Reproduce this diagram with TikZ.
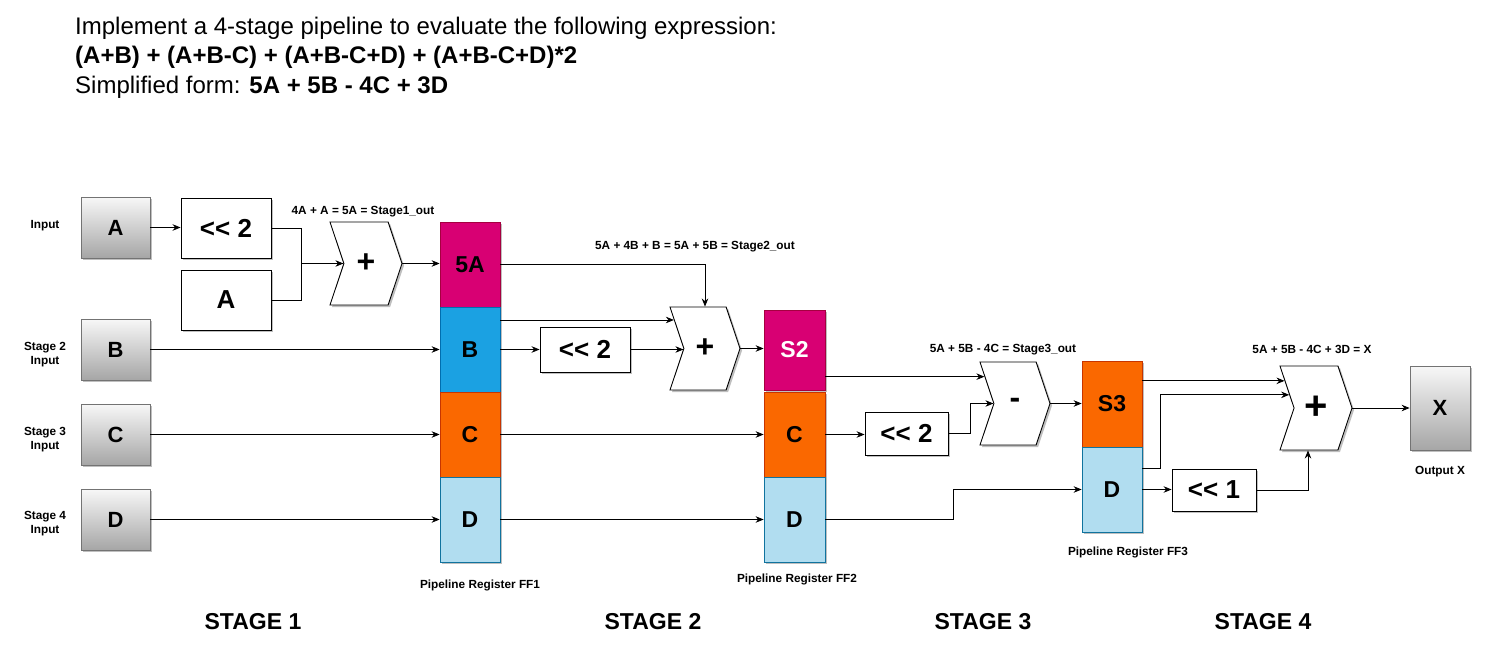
\documentclass[tikz,border=0pt]{standalone}
\usepackage{fontspec}
\setmainfont{Liberation Sans}
\usepackage{xcolor}
\usepackage{tikz}
\usetikzlibrary{arrows.meta,calc,shapes.symbols,shadows}
\definecolor{regMagenta}{HTML}{D80073}
\definecolor{regMagentaLine}{HTML}{A50040}
\definecolor{regBlue}{HTML}{1BA1E2}
\definecolor{regBlueLine}{HTML}{006EAF}
\definecolor{regOrange}{HTML}{FA6800}
\definecolor{regOrangeLine}{HTML}{C73500}
\definecolor{regLight}{HTML}{B1DDF0}
\definecolor{regLightLine}{HTML}{10739E}
% shift text without the << ligature
\newcommand{\shiftby}[1]{<\kern0pt< #1}
\tikzset{
  >=Stealth,
  softshadow/.style={
    drop shadow={opacity=0.25,shadow xshift=2pt,shadow yshift=-2pt,fill=black}
  },
  inbox/.style={
    draw=black!55,
    top color=black!3,
    bottom color=black!35,
    line width=0.8pt,
    softshadow,
    minimum width=69,
    minimum height=61,
    inner sep=0pt,
    font=\fontsize{22}{26}\selectfont\bfseries
  },
  opbox/.style={
    draw=black,
    fill=white,
    line width=0.9pt,
    softshadow,
    minimum width=90,
    minimum height=60,
    inner sep=0pt,
    font=\fontsize{26}{30}\selectfont\bfseries
  },
  adder/.style={
    shape=signal,
    signal from=west,
    signal to=east,
    signal pointer angle=143,
    draw=black,
    fill=white,
    line width=0.9pt,
    softshadow,
    minimum width=72,
    minimum height=83,
    inner sep=0pt,
    font=\fontsize{32}{36}\selectfont\bfseries
  },
  reg/.style={
    fill=#1,
    draw=#1Line,
    line width=0.8pt,
    softshadow,
    minimum width=60,
    minimum height=85,
    inner sep=0pt,
    font=\fontsize{23}{27}\selectfont\bfseries
  },
  sidelab/.style={
    font=\fontsize{11.8}{14}\selectfont\bfseries,
    align=center
  },
  stagelab/.style={
    font=\fontsize{23}{27}\selectfont\bfseries
  },
  tasktext/.style={
    anchor=west,
    inner sep=0pt,
    font=\fontsize{24}{28}\selectfont
  },
  wire/.style={
    line width=0.8pt,
    draw=black
  },
  arrow/.style={
    -{Stealth[length=8pt,width=6.5pt]},
    line width=0.8pt,
    draw=black
  }
}

\begin{document}
\begin{tikzpicture}[x=1pt,y=-1pt]
\useasboundingbox (0,0) rectangle (1489,661);

% task text
\node[tasktext] (task1) at (75,28)
{Implement a 4-stage pipeline to evaluate the following expression:};
\node[tasktext,font=\fontsize{24}{28}\selectfont\bfseries] (task2) at (75,57)
{(A+B) + (A+B-C) + (A+B-C+D) + (A+B-C+D)*2};
\node[tasktext] (task3) at (75,87)
{Simplified form: \textbf{5A + 5B - 4C + 3D}};

% inputs
\node[inbox] (inA) at (115.5,227.5) {A};
\node[inbox] (inB) at (115.5,349.5) {B};
\node[inbox] (inC) at (115.5,434.5) {C};
\node[inbox] (inD) at (115.5,519.5) {D};
\node[sidelab] (labA) at (45,226) {Input};
\node[sidelab] (labB) at (45,355) {Stage 2\\Input};
\node[sidelab] (labC) at (45,440) {Stage 3\\Input};
\node[sidelab] (labD) at (45,524) {Stage 4\\Input};

% stage 1
\node[opbox] (shl1) at (226,228) {\shiftby{2}};
\node[opbox] (boxA) at (226,300) {A};
\node[adder] (chev1) at (366,263.5) {+};
\node[sidelab] (eq1) at (363,212) {4A + A = 5A = Stage1\_out};

\node[reg=regMagenta] (r1a) at (470,264.5) {5A};
\node[reg=regBlue] (r1b) at (470,349.5) {B};
\node[reg=regOrange] (r1c) at (470,434.5) {C};
\node[reg=regLight] (r1d) at (470,519.5) {D};
\node[sidelab] (ff1) at (480,585) {Pipeline Register FF1};

\coordinate (j1) at (301,263.5);
\draw[arrow] (inA.east) -- (inA.east -| shl1.west);
\draw[wire] (shl1.east) -| (j1);
\draw[wire] (boxA.east) -| (j1);
\draw[arrow] (j1) -- (chev1.west);
\draw[arrow] (chev1.east) -- (chev1.east -| r1a.west);
\draw[arrow] (inB.east) -- (inB.east -| r1b.west);
\draw[arrow] (inC.east) -- (inC.east -| r1c.west);
\draw[arrow] (inD.east) -- (inD.east -| r1d.west);

% stage 2
\node[opbox,minimum height=45] (shl2) at (585,349.5) {\shiftby{2}};
\node[adder,minimum width=70] (chev2) at (705,348.5) {+};
\node[sidelab] (eq2) at (695,247) {5A + 4B + B = 5A + 5B = Stage2\_out};

\node[reg=regMagenta,minimum width=61,minimum height=80,text=white] (r2s) at (794.5,350) {S2};
\node[reg=regOrange,minimum width=61] (r2c) at (794.5,434.5) {C};
\node[reg=regLight,minimum width=61] (r2d) at (794.5,519.5) {D};
\node[sidelab] (ff2) at (797,579) {Pipeline Register FF2};

\coordinate (s2in) at ($(chev2.north west)!0.32!(chev2.west)$);
\draw[arrow] (r1a.east) -| (chev2.north);
\draw[arrow] (r1b.east |- s2in) -- (s2in);
\draw[arrow] (r1b.east) -- (r1b.east -| shl2.west);
\draw[arrow] (shl2.east) -- (shl2.east -| chev2.west);
\draw[arrow] (chev2.east) -- (chev2.east -| r2s.west);
\draw[arrow] (r1c.east) -- (r1c.east -| r2c.west);
\draw[arrow] (r1d.east) -- (r1d.east -| r2d.west);

% stage 3
\node[opbox,minimum width=83,minimum height=43] (shl3) at (906.5,433.5) {\shiftby{2}};
\node[adder,minimum width=70] (chev3) at (1015,403.5) {-};
\node[sidelab] (eq3) at (1003,350) {5A + 5B - 4C = Stage3\_out};

\node[reg=regOrange,minimum height=86] (r3s) at (1112,404) {S3};
\node[reg=regLight] (r3d) at (1112,489.5) {D};
\node[sidelab] (ff3) at (1128,552) {Pipeline Register FF3};

\coordinate (s3in) at ($(chev3.north west)!0.36!(chev3.west)$);
\draw[arrow] (r2s.east |- s3in) -- (s3in);
\draw[arrow] (r2c.east) -- (r2c.east -| shl3.west);
\draw[arrow] (shl3.east) -- ++(22,0) |- (chev3.west);
\draw[arrow] (r2d.east) -- ++(128,0) |- (r3d.west);
\draw[arrow] (chev3.east) -- (chev3.east -| r3s.west);

% stage 4
\node[opbox,minimum width=84,minimum height=42] (shl4) at (1214,490) {\shiftby{1}};
\node[adder,minimum height=84,font=\fontsize{40}{44}\selectfont\bfseries] (chev4) at (1316,408) {+};
\node[sidelab] (eq4) at (1312,349) {5A + 5B - 4C + 3D = X};

\node[inbox,minimum width=60,minimum height=84] (outX) at (1440,408) {X};
\node[sidelab] (labX) at (1440,472) {Output X};

\coordinate (s4inA) at ($(chev4.north west)!0.36!(chev4.west)$);
\coordinate (s4inB) at ($(chev4.north west)!0.69!(chev4.west)$);
\draw[arrow] (r3s.east |- s4inA) -- (s4inA);
\draw[arrow] ([yshift=21pt]r3d.east) -- ++(18,0) |- (s4inB);
\draw[arrow] (r3d.east) -- (r3d.east -| shl4.west);
\draw[arrow] (shl4.east) -| ([xshift=-8pt]chev4.south);
\draw[arrow] (chev4.east) -- (chev4.east -| outX.west);

% stage titles
\node[stagelab] (st1) at (253,622) {STAGE 1};
\node[stagelab] (st2) at (653,622) {STAGE 2};
\node[stagelab] (st3) at (983,622) {STAGE 3};
\node[stagelab] (st4) at (1263,622) {STAGE 4};

\end{tikzpicture}
\end{document}
